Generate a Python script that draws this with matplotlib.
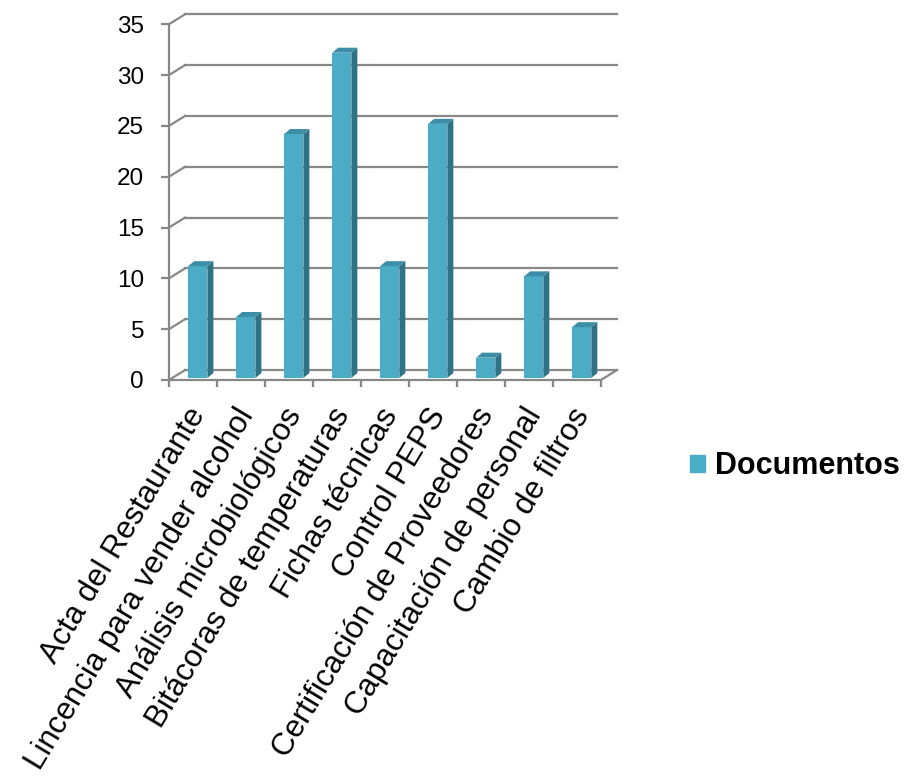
import numpy as np
import matplotlib
matplotlib.use("Agg")
from matplotlib import pyplot as plt
from matplotlib.patches import Polygon, Patch

categories = [
    "Acta del Restaurante",
    "Lincencia para vender alcohol",
    "Análisis microbiológicos",
    "Bitácoras de temperaturas",
    "Fichas técnicas",
    "Control PEPS",
    "Certificación de Proveedores",
    "Capacitación de personal",
    "Cambio de filtros",
]
documentos = [11, 6, 24, 32, 11, 25, 2, 10, 5]
y_ticks = [0, 5, 10, 15, 20, 25, 30, 35]
series_name = "Documentos"

plt.rcParams["font.family"] = ["Liberation Sans", "DejaVu Sans"]

front_color = "#4BACC6"
side_color = "#2F7185"
top_color = "#3B8EA5"
grid_color = "#888888"

# pseudo 3d offsets (data units)
wall_dx, wall_dy = 0.335, 0.98
bar_dx, bar_dy = 0.125, 0.49
bar_w, bar_shift, bar_base = 0.4, 0.1, 0.2

fig = plt.figure(figsize=(9.1, 7.79), dpi=100)
ax = fig.add_axes([169 / 910, (779 - 380) / 779, 448 / 910, 370 / 779])
n = len(categories)
ax.set_xlim(-0.5, n - 0.5 + wall_dx)
ax.set_ylim(0, 36.4)

x0 = -0.5
x1 = n - 0.5
# back wall gridlines + side wall diagonals
for v in y_ticks:
    ax.plot([x0 + wall_dx, x1 + wall_dx], [v + wall_dy, v + wall_dy],
            color=grid_color, lw=1.6, zorder=1, clip_on=False)
    ax.plot([x0, x0 + wall_dx], [v, v + wall_dy],
            color=grid_color, lw=1.6, zorder=1, clip_on=False)
# floor
ax.plot([x0, x1], [0, 0], color=grid_color, lw=1.6, zorder=1, clip_on=False)
ax.plot([x1, x1 + wall_dx], [0, wall_dy], color=grid_color, lw=1.6, zorder=1, clip_on=False)

# bars
x = np.arange(n)
ax.bar(x + bar_shift, documentos, width=bar_w, bottom=bar_base,
       color=front_color, zorder=3, linewidth=0)
for xi, v in zip(x, documentos):
    left = xi + bar_shift - bar_w / 2
    right = xi + bar_shift + bar_w / 2
    top = v + bar_base
    side = Polygon([(right, bar_base), (right + bar_dx, bar_base + bar_dy),
                    (right + bar_dx, top + bar_dy), (right, top)],
                   closed=True, facecolor=side_color, edgecolor="none", zorder=3)
    cap = Polygon([(left, top), (right, top), (right + bar_dx, top + bar_dy),
                   (left + bar_dx, top + bar_dy)],
                  closed=True, facecolor=top_color, edgecolor="none", zorder=3)
    ax.add_patch(side)
    ax.add_patch(cap)

# axes / ticks
for s in ["top", "right", "bottom"]:
    ax.spines[s].set_visible(False)
ax.spines["left"].set_bounds(0, 35)
ax.spines["left"].set_color(grid_color)
ax.spines["left"].set_linewidth(1.6)
ax.set_yticks(y_ticks)
ax.tick_params(axis="y", direction="out", length=6, width=1.6, color=grid_color,
               labelsize=17.5, pad=12)

ax.set_xticks(np.arange(-0.5, n, 1.0), minor=True)
ax.set_xticks([])
ax.tick_params(axis="x", which="minor", direction="out", length=5, width=1.6,
               color=grid_color)

for xi, lab in zip(x, categories):
    ax.text(xi + 0.13, -3.0, lab, rotation=59, rotation_mode="anchor",
            ha="right", va="center", fontsize=22.5)

fig.legend(handles=[Patch(color=front_color)], labels=[series_name],
           loc="center left", bbox_to_anchor=(690 / 910, 1 - 466 / 779),
           frameon=False, borderpad=0, borderaxespad=0,
           handlelength=0.49, handleheight=0.49, handletextpad=0.33,
           prop={"size": 22, "weight": "bold"})

fig.savefig("out.png", dpi=100)
